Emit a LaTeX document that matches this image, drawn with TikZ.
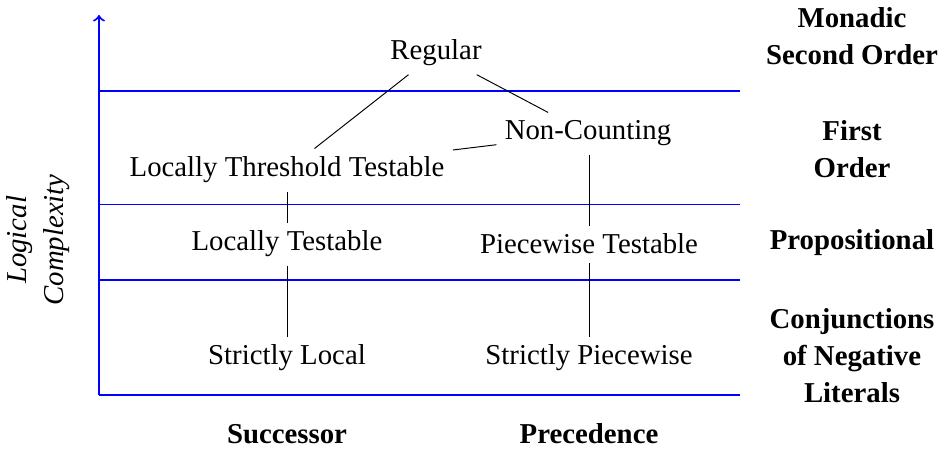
\documentclass[tikz,border=0pt]{standalone}
\usepackage{fontspec}
\setmainfont{Liberation Serif}
\begin{document}
\begin{tikzpicture}[x=0.41667pt,y=-0.41667pt,
  cls/.style={font=\fontsize{12}{15}\selectfont, anchor=base},
  lvl/.style={font=\fontsize{12}{15.4}\selectfont\bfseries, align=center},
  axis/.style={draw=blue, line width=0.85pt},
  sep/.style={draw=blue, line width=0.6pt},
  link/.style={draw=black, line width=0.4pt}]
\useasboundingbox (0,0) rectangle (942,450);
% axes and levels
\coordinate (o) at (99,395);
\coordinate (top) at (99,15);
\coordinate (xend) at (740,395);
\draw[axis,->] (o) -- (top);
\draw[axis] (o) -- (xend);
\coordinate (l1a) at (99,91);  \coordinate (l1b) at (740,91);
\coordinate (l2a) at (99,204.5); \coordinate (l2b) at (740,204.5);
\coordinate (l3a) at (99,280); \coordinate (l3b) at (740,280);
\draw[sep] (l1a) -- (l1b);
\draw[sep] (l2a) -- (l2b);
\draw[sep] (l3a) -- (l3b);
% classes
\node[cls] (reg) at (436,60) {Regular};
\node[cls] (nc) at (588,140) {Non-Counting};
\node[cls] (ltt) at (287,177) {Locally Threshold Testable};
\node[cls] (lt) at (287,251) {Locally Testable};
\node[cls] (pt) at (589,254) {Piecewise Testable};
\node[cls] (sl) at (287,365) {Strictly Local};
\node[cls] (sp) at (589,365) {Strictly Piecewise};
% connectors
\draw[link] (reg) -- (ltt);
\draw[link] (reg) -- (nc);
\draw[link] (nc) -- (ltt);
\draw[link] (ltt) -- (lt);
\draw[link] (lt) -- (sl);
\draw[link] (nc.south -| pt.north) -- (pt.north);
\draw[link] (pt) -- (sp);
% level labels
\node[lvl] (mso) at (852,36) {Monadic\\Second Order};
\node[lvl] (fo) at (852,149) {First\\Order};
\node[lvl] (prop) at (852,243) {Propositional};
\node[lvl] (cnl) at (852,356) {Conjunctions\\of Negative\\Literals};
% axis labels
\node[font=\fontsize{12}{15.4}\selectfont\bfseries, anchor=base] (succ) at (287,444) {Successor};
\node[font=\fontsize{12}{15.4}\selectfont\bfseries, anchor=base] (prec) at (589,444) {Precedence};
\node[font=\fontsize{12}{15.4}\selectfont\itshape, align=center, rotate=90] (lc) at (38,240) {Logical\\Complexity};
\end{tikzpicture}
\end{document}
